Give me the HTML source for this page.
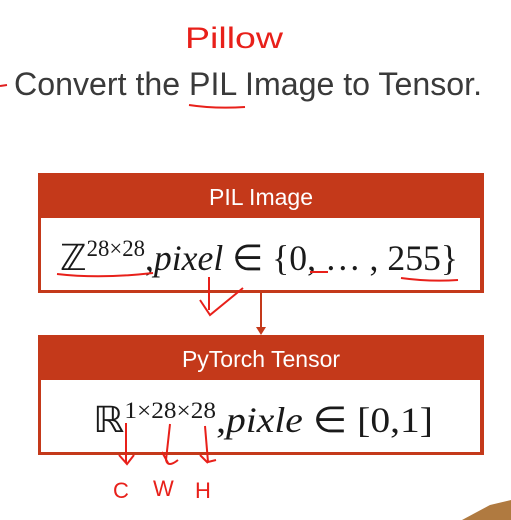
<!DOCTYPE html>
<html><head><meta charset="utf-8"><style>
html,body{margin:0;padding:0;background:#fff;}
body{width:511px;height:520px;position:relative;overflow:hidden;font-family:"Liberation Sans",sans-serif;}
svg{position:absolute;left:0;top:0;}
</style></head><body>
<svg width="511" height="520" viewBox="0 0 511 520">
  <text x="14" y="95" font-family="Liberation Sans, sans-serif" font-size="32" fill="#3a3a3a" textLength="468" lengthAdjust="spacingAndGlyphs">Convert the PIL Image to Tensor.</text>
  <path d="M0 86 L7 85" stroke="#e02020" stroke-width="2"/>
  <text x="185" y="48" font-family="Liberation Sans, sans-serif" font-size="30" fill="#e8201a" textLength="98" lengthAdjust="spacingAndGlyphs">Pillow</text>
  <path d="M189 105 Q215 109 245 107" stroke="#e8201a" stroke-width="2" fill="none"/>

  <g>
    <rect x="38" y="173" width="446" height="120" fill="#c4391a"/>
    <rect x="41" y="218" width="439" height="72" fill="#fff"/>
    <text x="261" y="205" text-anchor="middle" font-size="23" fill="#fff">PIL Image</text>
    <text x="60" y="270" font-family="Liberation Serif, serif" font-size="36" fill="#1a1a1a" textLength="398" lengthAdjust="spacingAndGlyphs">ℤ<tspan font-size="23" dy="-14">28×28</tspan><tspan dy="14">,</tspan><tspan font-style="italic">pixel</tspan> ∈ {0, … , 255}</text>
  </g>
  <path d="M57 274 Q100 279 153 273" stroke="#e8201a" stroke-width="2" fill="none"/>
  <path d="M310 272 L328 272" stroke="#e8201a" stroke-width="2" fill="none"/>
  <path d="M401 278 Q430 282 458 280" stroke="#e8201a" stroke-width="2" fill="none"/>
  <path d="M209 277 L209 310 M200 300 L210 315 L243 288" stroke="#e8201a" stroke-width="2" fill="none"/>

  <g>
    <line x1="261" y1="293" x2="261" y2="328" stroke="#c4391a" stroke-width="2"/>
    <polygon points="256,327 266,327 261,335" fill="#c4391a"/>
  </g>

  <g>
    <rect x="38" y="335" width="446" height="120" fill="#c4391a"/>
    <rect x="41" y="380" width="439" height="72" fill="#fff"/>
    <text x="261" y="367" text-anchor="middle" font-size="23" fill="#fff">PyTorch Tensor</text>
    <text x="93" y="432" font-family="Liberation Serif, serif" font-size="36" fill="#1a1a1a" textLength="340" lengthAdjust="spacingAndGlyphs">ℝ<tspan font-size="23" dy="-14">1×28×28</tspan><tspan dy="14">,</tspan><tspan font-style="italic">pixle</tspan> ∈ [0,1]</text>
  </g>
  <g stroke="#e8201a" stroke-width="2" fill="none">
    <path d="M126 423 L126 463 M119 455 L127 464 L134 455"/>
    <path d="M170 424 L166 460 Q168 468 178 460 M162 452 L168 463"/>
    <path d="M205 426 L208 462 L216 460 M200 455 L208 463"/>
  </g>
  <text x="113" y="498" font-size="22" fill="#e8201a">C</text>
  <text x="153" y="496" font-size="22" fill="#e8201a">W</text>
  <text x="195" y="498" font-size="22" fill="#e8201a">H</text>
  <polygon points="462,520 490,505 511,500 511,520" fill="#b07a40"/>
</svg>
</body></html>
